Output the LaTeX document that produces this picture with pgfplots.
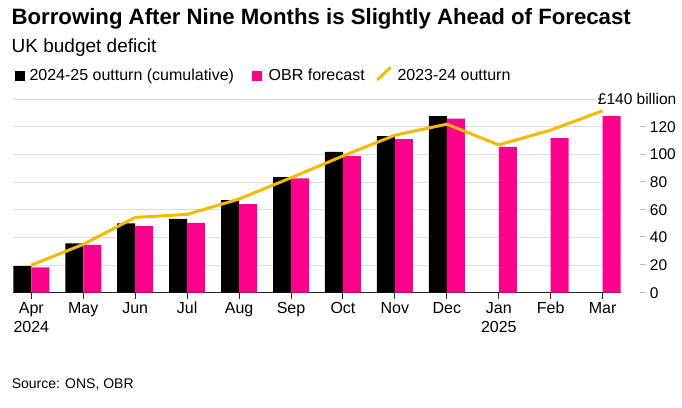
\documentclass[border=0pt]{standalone}
\usepackage{pgfplots}
\pgfplotsset{compat=1.18}
\usepackage{fontspec}
\setmainfont{Liberation Sans}

\definecolor{obrpink}{HTML}{FF008C}
\definecolor{lineyellow}{HTML}{F5BA00}
\definecolor{gridgray}{HTML}{DCDCDC}
\definecolor{dashgray}{HTML}{BBBBBB}

% y tick label: small grey dash, then the number
\newcommand{\yt}[1]{\textcolor{dashgray}{\rule[5.3pt]{6pt}{1pt}}\hspace{4pt}#1}

\begin{document}
\begin{tikzpicture}
\useasboundingbox (-13.3pt,-114.3pt) rectangle (668.7pt,292.7pt);
\begin{axis}[
    at={(0pt,0pt)}, anchor=south west,
    scale only axis,
    width=607.4pt,
    height=193.4pt,
    xmin=-0.347, xmax=11.347,
    ymin=0, ymax=140,
    axis x line*=bottom,
    axis y line*=right,
    y axis line style={draw=none},
    x axis line style={black!85, line width=1pt},
    xtick={0,...,11},
    xticklabels={{Apr\\2024},May,Jun,Jul,Aug,Sep,Oct,Nov,Dec,{Jan\\2025},Feb,Mar},
    xticklabel style={align=center, font=\fontsize{16}{19.3}\selectfont},
    xtick style={black!85, line width=1pt},
    tick align=outside,
    major tick length=6pt,
    ytick={0,20,40,60,80,100,120,140},
    yticklabels={\yt{0},\yt{20},\yt{40},\yt{60},\yt{80},\yt{100},\yt{120},{\hspace*{-42pt}£140 billion}},
    ytick style={draw=none},
    yticklabel style={anchor=west, inner sep=0pt, xshift=13pt, font=\fontsize{15.5}{18}\selectfont},
    ymajorgrids,
    grid style={gridgray, line width=1pt},
]

% 2024-25 outturn (cumulative)
\addplot[ybar, bar width=18pt, bar shift=-9pt, fill=black, draw=none] coordinates {
(0,19.3) (1,35.7) (2,50.2) (3,53.5) (4,67.0) (5,83.7) (6,102.0) (7,113.3) (8,127.8)
};

% OBR forecast
\addplot[ybar, bar width=18pt, bar shift=9pt, fill=obrpink, draw=none] coordinates {
(0,18.4) (1,34.7) (2,48.2) (3,50.6) (4,64.2) (5,82.7) (6,98.9) (7,111.2) (8,126.1)
(9,105.6) (10,111.9) (11,127.8)
};

% 2023-24 outturn
\addplot[lineyellow, line width=3pt, line join=round, mark=none] coordinates {
(0,20.0) (1,35.0) (2,54.5) (3,56.7) (4,67.8) (5,83.2) (6,99.0) (7,114.0) (8,122.0)
(9,107.0) (10,117.7) (11,131.7)
};
\end{axis}

% titles
\node[anchor=base west, inner sep=0pt, font=\bfseries\fontsize{22.2}{26}\selectfont]
  at (-1.9pt,268.2pt) {Borrowing After Nine Months is Slightly Ahead of Forecast};
\node[anchor=base west, inner sep=0pt, font=\fontsize{19}{23}\selectfont]
  at (-1.8pt,240.4pt) {UK budget deficit};

% legend
\fill[black] (1.7pt,212pt) rectangle (11.7pt,222pt);
\node[anchor=base west, inner sep=0pt, font=\fontsize{16}{19}\selectfont]
  at (16pt,212.2pt) {2024-25 outturn (cumulative)};
\fill[obrpink] (239pt,212pt) rectangle (249pt,222pt);
\node[anchor=base west, inner sep=0pt, font=\fontsize{16}{19}\selectfont]
  at (255.2pt,212.2pt) {OBR forecast};
\draw[lineyellow, line width=3pt] (364pt,212.7pt) -- (377.4pt,225.4pt);
\node[anchor=base west, inner sep=0pt, font=\fontsize{16}{19}\selectfont]
  at (384pt,212.2pt) {2023-24 outturn};

% source
\node[anchor=base west, inner sep=0pt, font=\fontsize{14}{17}\selectfont]
  at (-1.7pt,-95.6pt) {Source: ONS, OBR};
\end{tikzpicture}
\end{document}
